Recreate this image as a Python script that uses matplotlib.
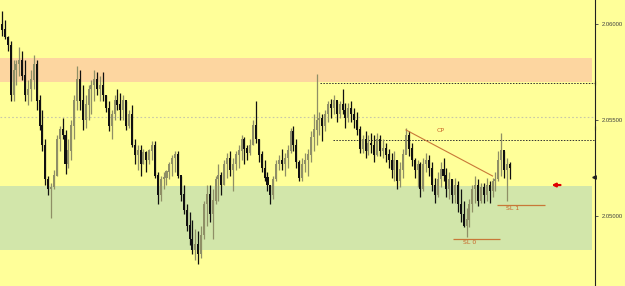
import numpy as np
import matplotlib.pyplot as plt

# price data, in pips above 2.0500
high_pips = [107, 102, 94, 91, 81, 81, 88, 86, 81, 71,
             76, 84, 81, 63, 55, 40, 21, 17, 24, 42,
             47, 51, 45, 40, 50, 63, 78, 76, 68, 63,
             68, 71, 76, 75, 73, 75, 63, 60, 55, 63,
             66, 64, 63, 60, 55, 58, 40, 37, 37, 35,
             34, 35, 39, 39, 23, 21, 23, 24, 28, 32,
             34, 34, 21, 16, 6, 2, -2, -7, -8, -5,
             8, 16, 16, 14, 21, 27, 23, 29, 33, 34,
             30, 34, 37, 42, 41, 37, 40, 50, 60, 40,
             34, 29, 23, 16, 21, 29, 32, 35, 33, 37,
             46, 47, 40, 29, 30, 33, 35, 44, 53, 74,
             54, 53, 55, 60, 61, 63, 60, 60, 66, 59,
             59, 60, 56, 54, 47, 42, 44, 42, 43, 42,
             43, 42, 40, 38, 35, 33, 34, 29, 28, 35,
             46, 44, 38, 30, 29, 28, 30, 33, 32, 28,
             20, 23, 28, 30, 25, 23, 19, 20, 18, 14,
             8, 4, 9, 16, 21, 19, 17, 17, 20, 18,
             20, 23, 34, 43, 34, 30, 28]
low_pips = [94, 92, 86, 60, 60, 68, 73, 71, 60, 58,
            60, 66, 55, 45, 34, 16, 11, -1, 14, 21,
            34, 40, 22, 25, 29, 40, 55, 55, 45, 46,
            50, 53, 60, 63, 60, 60, 54, 44, 40, 50,
            55, 50, 50, 45, 46, 36, 27, 24, 21, 27,
            23, 27, 29, 20, 6, 8, 14, 16, 19, 21,
            23, 20, 8, 1, -8, -15, -20, -23, -25, -22,
            -12, -5, -3, -12, 6, 8, 11, 16, 20, 21,
            13, 24, 25, 29, 27, 29, 32, 37, 38, 28,
            23, 18, 13, 6, 9, 18, 24, 24, 21, 25,
            33, 34, 25, 18, 18, 23, 21, 28, 34, 37,
            42, 39, 44, 49, 51, 53, 49, 51, 53, 46,
            49, 49, 46, 42, 33, 33, 30, 32, 33, 28,
            31, 31, 30, 28, 25, 20, 18, 14, 15, 20,
            33, 31, 26, 20, 15, 10, 13, 23, 21, 13,
            7, 10, 15, 18, 10, 9, 7, 7, 2, -3,
            -6, -11, -6, 2, 7, 5, 7, 7, 8, 7,
            10, 13, 18, 21, 20, 8, 19]
close_pips = [97, 93, 89, 63, 76, 79, 81, 73, 63, 66,
              71, 79, 60, 47, 37, 19, 14, 15, 21, 40,
              45, 42, 27, 34, 47, 60, 71, 60, 50, 58,
              66, 68, 71, 66, 68, 63, 56, 47, 53, 60,
              58, 55, 60, 47, 53, 37, 32, 34, 27, 33,
              29, 34, 37, 21, 11, 19, 20, 23, 27, 30,
              32, 21, 11, 3, -5, -12, -18, -15, -20, -10,
              6, 11, 1, 8, 19, 21, 16, 27, 30, 24,
              27, 32, 34, 40, 35, 33, 37, 47, 40, 32,
              25, 20, 16, 11, 19, 27, 29, 27, 30, 34,
              44, 37, 28, 20, 27, 29, 32, 41, 45, 50,
              51, 47, 53, 58, 56, 60, 53, 58, 55, 51,
              56, 53, 50, 45, 35, 40, 34, 38, 37, 32,
              40, 34, 35, 32, 29, 24, 29, 18, 24, 32,
              42, 35, 29, 24, 27, 14, 27, 29, 25, 16,
              11, 19, 24, 21, 14, 19, 11, 16, 6, 1,
              -5, -2, 6, 14, 16, 8, 15, 11, 16, 13,
              18, 19, 29, 34, 24, 27, 25]
first_open_pips = 100

base = 2.05
hi = base + np.array(high_pips) / 1e4
lo = base + np.array(low_pips) / 1e4
cl = base + np.array(close_pips) / 1e4
op = np.concatenate([[base + first_open_pips / 1e4], cl[:-1]])
idx = np.arange(len(cl))

# levels
supply_zone = (2.05698, 2.05823)
demand_zone = (2.04823, 2.05156)
grey_level = 2.05516
level_a = 2.05693
level_b = 2.05396
cp_line = ([140, 170], [2.05448, 2.05208])
sl1 = ([171.5, 188], 2.05057)
sl0 = ([156.3, 172.6], 2.04880)
yticks = [2.05, 2.055, 2.06]

bg = '#ffff99'
fig = plt.figure(figsize=(6.25, 2.86), dpi=100, facecolor=bg)
ax = fig.add_axes([0, 0, 595 / 625, 1])
ax.set_facecolor(bg)

ax.axhspan(*supply_zone, xmin=0, xmax=0.995, color='#fdd6a0', lw=0, zorder=0)
ax.axhspan(*demand_zone, xmin=0, xmax=0.995, color='#d2e6aa', lw=0, zorder=0)
ax.axhline(grey_level, color='#c8c8a8', lw=0.8, ls=(0, (1.5, 2)), zorder=1)
ax.hlines(level_a, 110.2, 206, color='#303030', lw=0.7, ls=(0, (1.5, 1.5)), zorder=1)
ax.hlines(level_b, 114.7, 206, color='#303030', lw=0.7, ls=(0, (1.5, 1.5)), zorder=1)

up = cl >= op
bull_col = '#8f8f66'
bear_col = '#101010'
colors = np.where(up, bull_col, bear_col)
ax.vlines(idx, lo, hi, colors=colors, lw=0.9, zorder=3)
ax.bar(idx, np.abs(cl - op) + 0.00002, bottom=np.minimum(op, cl), width=0.7,
       color=colors, lw=0, zorder=3)

line_col = '#c87838'
ax.plot(cp_line[0], cp_line[1], color=line_col, lw=0.8, zorder=4)
ax.text(152, 2.05446, 'CP', color='#c86428', fontsize=4.5, ha='center', va='center')
ax.hlines(sl1[1], *sl1[0], color=line_col, lw=0.9, zorder=4)
ax.text(177, sl1[1] - 0.00003, 'SL 1', color='#c86428', fontsize=4.5, ha='center', va='top')
ax.hlines(sl0[1], *sl0[0], color=line_col, lw=0.9, zorder=4)
ax.text(162, sl0[1] - 0.00003, 'SL 0', color='#c86428', fontsize=4.5, ha='center', va='top')

ax.annotate('', xy=(189.5, 2.05161), xytext=(194.5, 2.05161),
            arrowprops=dict(arrowstyle='-|>', color='#e00000', lw=1.6,
                            mutation_scale=5))

ax.set_xlim(-0.7, 205.5)
ax.set_ylim(2.04635, 2.06125)

for s in ['left', 'top', 'bottom']:
    ax.spines[s].set_visible(False)
ax.spines['right'].set_color('#202020')
ax.spines['right'].set_linewidth(0.8)
ax.set_xticks([])
ax.yaxis.tick_right()
ax.set_yticks(yticks)
ax.set_yticklabels(['%.5f' % v for v in yticks], family='Liberation Sans')
ax.tick_params(axis='y', length=2.5, width=0.6, color='#404040',
               labelsize=4.2, labelcolor='#404040', pad=2.5)

# markers on price scale
ax.plot([205.5], [level_a], marker='|', color='#202020', ms=3, mew=0.8, clip_on=False, zorder=5)
ax.plot([205.5], [2.05458], marker='|', color='#202020', ms=3, mew=0.8, clip_on=False, zorder=5)
ax.plot([205.3], [2.05203], marker='<', color='#202020', ms=2.5, clip_on=False, zorder=5)

fig.savefig('out.png', dpi=100, facecolor=bg)
